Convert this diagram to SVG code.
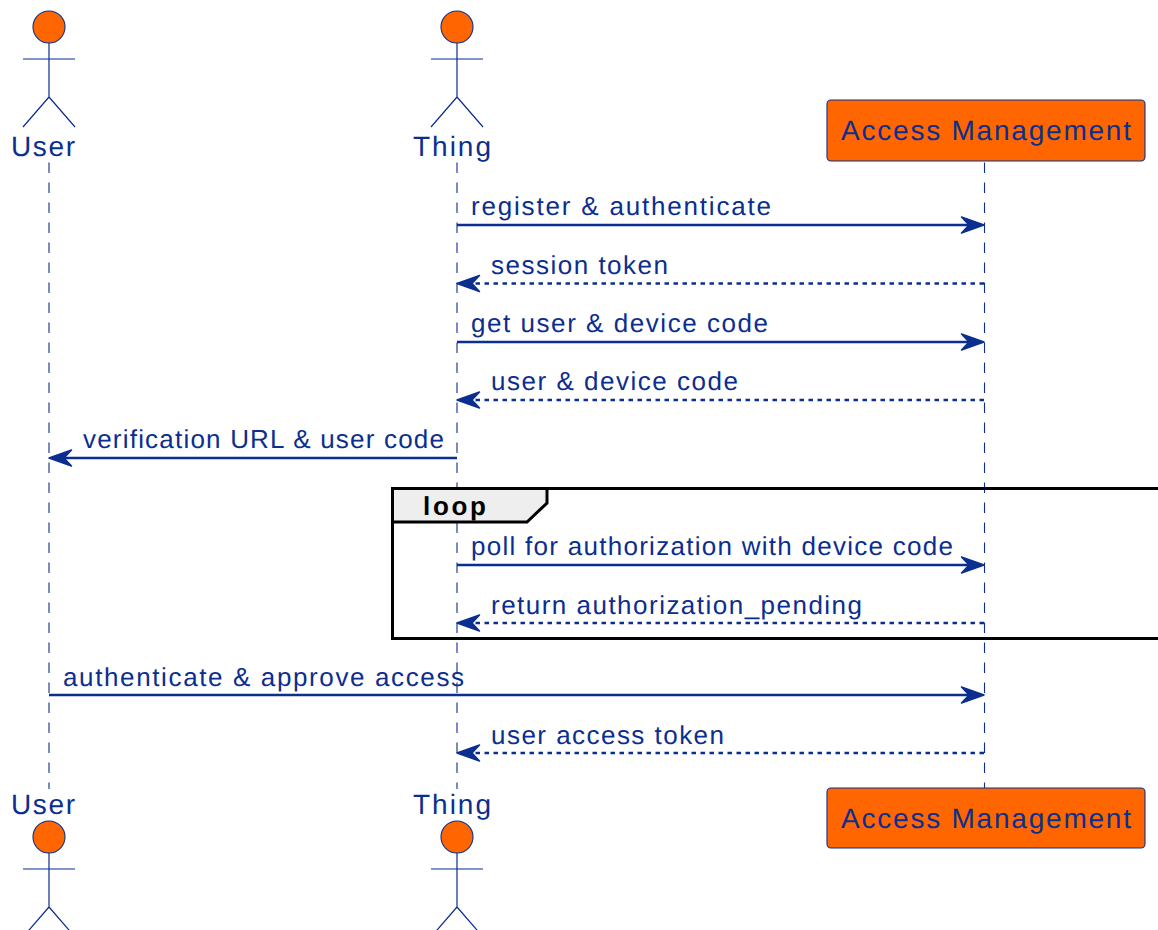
<svg xmlns="http://www.w3.org/2000/svg" width="1158" height="930" viewBox="0 0 1158 930">
<style>
text{font-family:"Liberation Sans",Arial,sans-serif;font-size:26px;fill:#0b2e8f;text-rendering:geometricPrecision}
.p{font-size:28px}
.ll{stroke:#0b2e8f;stroke-width:1.1;stroke-dasharray:10.500 9.500;fill:none}
.a{stroke:#0b2e8f;stroke-width:2.4;fill:none}
.d{stroke-dasharray:4.500 4.500}
.ah{fill:#0b2e8f;stroke:#0b2e8f;stroke-width:1.500;stroke-linejoin:round}
.h{fill:#ff6600;stroke:#0b2e8f;stroke-width:1.100}
.b{stroke:#0b2e8f;stroke-width:1.200;fill:none}
.box{fill:#ff6600;stroke:#0b2e8f;stroke-width:1.100}
</style>
<defs>
<g id="actor"><circle class="h" cx="0" cy="27" r="16"/><path class="b" d="M0 43V97M-26 59H26M0 97L-26 127M0 97L26 127"/></g>
<path id="ar" class="ah" d="M0 0L-22.500 -8L-15 0L-22.500 8Z"/>
<path id="al" class="ah" d="M0 0L22.500 -8L15 0L22.500 8Z"/>
</defs>
<g id="lifelines">
<path class="ll" d="M49 162.500V789"/><path class="ll" d="M457 162.500V789"/><path class="ll" d="M984.500 162.500V788"/>
</g>
<g id="user-top"><use href="#actor" x="49"/><text class="p" x="11" y="156" textLength="64">User</text></g>
<g id="thing-top"><use href="#actor" x="457"/><text class="p" x="413" y="156" textLength="78">Thing</text></g>
<g id="am-top"><rect class="box" x="827" y="100" width="318" height="61" rx="4"/><text class="p" x="841" y="140" textLength="290">Access Management</text></g>
<g id="user-bottom"><use href="#actor" x="49" y="810"/><text class="p" x="11" y="814" textLength="64">User</text></g>
<g id="thing-bottom"><use href="#actor" x="457" y="810"/><text class="p" x="413" y="814" textLength="78">Thing</text></g>
<g id="am-bottom"><rect class="box" x="827" y="788" width="318" height="60" rx="4"/><text class="p" x="841" y="828" textLength="290">Access Management</text></g>
<g id="loop">
<path d="M392.500 488.500H1160V638.500H392.500Z" fill="none" stroke="#000" stroke-width="3"/>
<path d="M392.500 488.500H547V503L527 522H392.500Z" fill="#eeeeee" stroke="#000" stroke-width="3"/>
<text x="423" y="515" textLength="63" style="fill:#000;font-weight:bold">loop</text>
</g>
<g id="connectors">
<path class="a" d="M457 225H975"/><use href="#ar" x="984" y="225"/>
<path class="a d" d="M984 283.500H470"/><use href="#al" x="457" y="283.500"/>
<path class="a" d="M457 342H975"/><use href="#ar" x="984" y="342"/>
<path class="a d" d="M984 400H470"/><use href="#al" x="457" y="400"/>
<path class="a" d="M457 458H60"/><use href="#al" x="49" y="458"/>
<path class="a" d="M457 565H975"/><use href="#ar" x="984" y="565"/>
<path class="a d" d="M984 623H470"/><use href="#al" x="457" y="623"/>
<path class="a" d="M49 695H975"/><use href="#ar" x="984" y="695"/>
<path class="a d" d="M984 753H470"/><use href="#al" x="457" y="753"/>
</g>
<g id="labels">
<text x="471" y="215" textLength="300">register &amp; authenticate</text>
<text x="491" y="274" textLength="177">session token</text>
<text x="471" y="332" textLength="297">get user &amp; device code</text>
<text x="491" y="390" textLength="247">user &amp; device code</text>
<text x="83" y="448" textLength="361">verification URL &amp; user code</text>
<text x="471" y="555" textLength="482">poll for authorization with device code</text>
<text x="491" y="614" textLength="371">return authorization_pending</text>
<text x="63" y="686" textLength="401">authenticate &amp; approve access</text>
<text x="491" y="744" textLength="233">user access token</text>
</g>
</svg>
